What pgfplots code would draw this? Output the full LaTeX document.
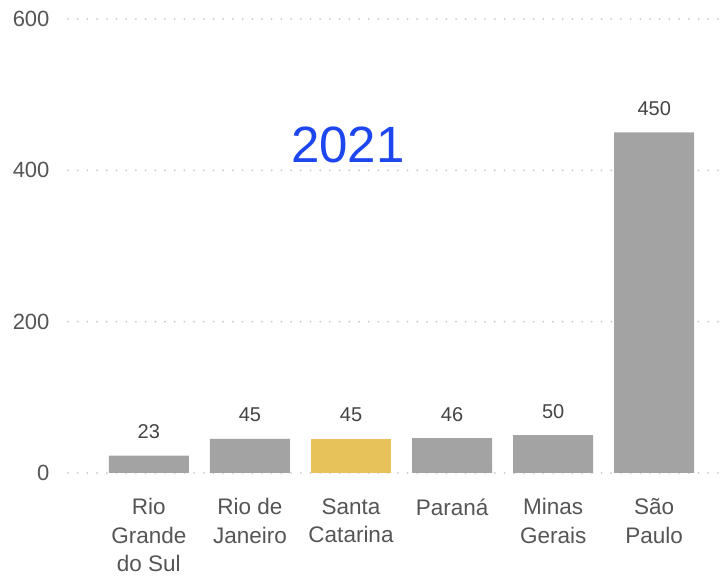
\documentclass[border=0pt]{standalone}
\usepackage{fontspec}
\setmainfont{Liberation Sans}
\usepackage{pgfplots}
\pgfplotsset{compat=1.18}
\definecolor{bargray}{HTML}{A3A3A3}
\definecolor{baryellow}{HTML}{E7C25A}
\definecolor{ticktext}{HTML}{555555}
\definecolor{valtext}{HTML}{444444}
\definecolor{gridc}{HTML}{C8C8C8}
\definecolor{titleblue}{HTML}{1E46F0}
\begin{document}
\begin{tikzpicture}
\useasboundingbox (0,0) rectangle (726pt,577pt);
\begin{axis}[
  at={(68pt,104pt)}, anchor=south west,
  scale only axis, width=658pt, height=454pt,
  xmin=-0.8, xmax=5.71, ymin=0, ymax=600,
  axis line style={draw=none},
  major tick length=0pt,
  ytick={0,200,400,600},
  ymajorgrids,
  grid style={gridc, line width=2pt, line cap=round, dash pattern=on 0pt off 9.7pt},
  yticklabel style={font=\fontsize{22}{22}\selectfont, color=ticktext, xshift=-15pt},
  /pgf/number format/assume math mode=true,
  xtick={0,1,2,3,4,5},
  xticklabels={{Rio\\Grande\\do Sul},{Rio de\\Janeiro},{Santa\\Catarina},{Paraná},{Minas\\Gerais},{São\\Paulo}},
  xticklabel style={align=center, font=\fontsize{22.5}{28.5}\selectfont, color=ticktext, anchor=north, yshift=-22pt},
  clip=false,
  ybar, bar width=80pt, bar shift=0pt,
  nodes near coords,
  nodes near coords style={font=\fontsize{20}{20}\selectfont, color=valtext, anchor=base, yshift=17pt},
]
\addplot[fill=bargray, draw=none] coordinates {(0,23) (1,45) (3,46) (4,50) (5,450)};
\addplot[fill=baryellow, draw=none] coordinates {(2,45)};
\node[font=\fontsize{51}{51}\selectfont, text=titleblue, anchor=base] at (axis cs:1.97,409.7) {2021};
\end{axis}
\end{tikzpicture}
\end{document}
